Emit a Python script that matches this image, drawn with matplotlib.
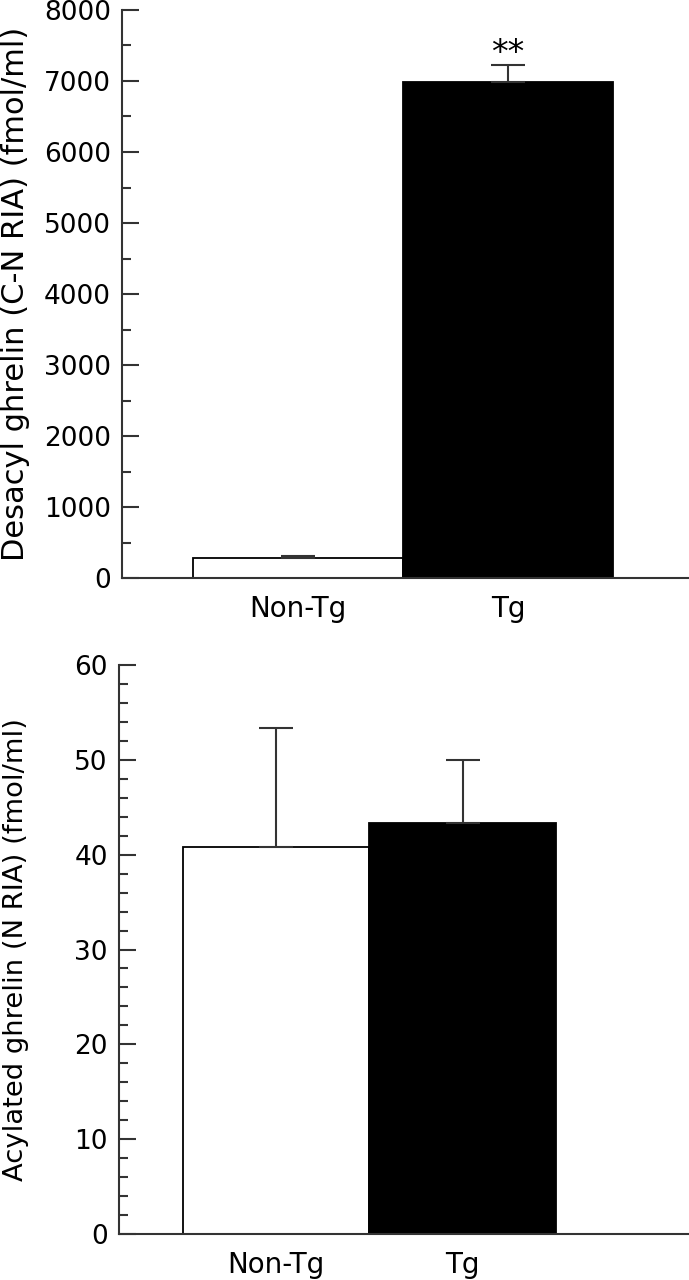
import matplotlib
matplotlib.use("Agg")
import matplotlib.pyplot as plt
from matplotlib.ticker import MultipleLocator

groups = ["Non-Tg", "Tg"]
desacyl_mean = [280, 6980]
desacyl_sem = [30, 245]
acyl_mean = [40.8, 43.3]
acyl_sem = [12.6, 6.7]
bar_colors = ["white", "black"]

plt.rcParams['font.family'] = ['DejaVu Sans']
fig = plt.figure(figsize=(6.89, 12.8), dpi=100)

lc = "#333333"
fs_y = 19
fs_x = 20
fs_lab = 22

def style(ax, major, minor, ymax):
    for s in ["top", "right"]:
        ax.spines[s].set_visible(False)
    for s in ["left", "bottom"]:
        ax.spines[s].set_color(lc)
        ax.spines[s].set_linewidth(1.5)
    ax.set_ylim(0, ymax)
    ax.yaxis.set_major_locator(MultipleLocator(major))
    ax.yaxis.set_minor_locator(MultipleLocator(minor))
    ax.tick_params(axis='y', which='major', direction='in', length=12, width=1.5, color=lc, labelsize=fs_y, pad=8)
    ax.tick_params(axis='y', which='minor', direction='in', length=6.5, width=1.5, color=lc)
    ax.tick_params(axis='x', length=0, labelsize=fs_x, pad=12)

# Top panel
ax1 = fig.add_axes([0.177, 0.5484, 0.823, 0.4438])
x = [0, 1]
ax1.bar(x, desacyl_mean, width=1.0, color=bar_colors, edgecolor="black", linewidth=1.3, zorder=2)
ax1.errorbar(x, desacyl_mean, yerr=[[0, 0], desacyl_sem], fmt='none', ecolor=lc,
             elinewidth=1.5, capsize=12, capthick=1.5, zorder=3)
ax1.set_xlim(-0.838, 1.862)
style(ax1, 1000, 500, 8000)
ax1.set_xticks(x)
ax1.set_xticklabels(groups)
ax1.set_ylabel("Desacyl ghrelin (C-N RIA) (fmol/ml)", fontsize=fs_lab, va='center')
ax1.yaxis.set_label_coords(-0.187, 0.5)
ax1.text(1, desacyl_mean[1] + desacyl_sem[1] - 70, "**", ha='center', va='bottom',
         fontsize=24)

# Bottom panel
ax2 = fig.add_axes([0.1727, 0.0359, 0.8273, 0.4446])
ax2.bar(x, acyl_mean, width=1.0, color=bar_colors, edgecolor="black", linewidth=1.3, zorder=2)
ax2.errorbar(x, acyl_mean, yerr=[[0, 0], acyl_sem], fmt='none', ecolor=lc,
             elinewidth=1.5, capsize=12, capthick=1.5, zorder=3)
ax2.set_xlim(-0.84, 2.21)
style(ax2, 10, 2, 60)
ax2.set_xticks(x)
ax2.set_xticklabels(groups)
ax2.set_ylabel("Acylated ghrelin (N RIA) (fmol/ml)", fontsize=19.7, va='center')
ax2.yaxis.set_label_coords(-0.181, 0.5)

fig.savefig("out.png", dpi=100)
